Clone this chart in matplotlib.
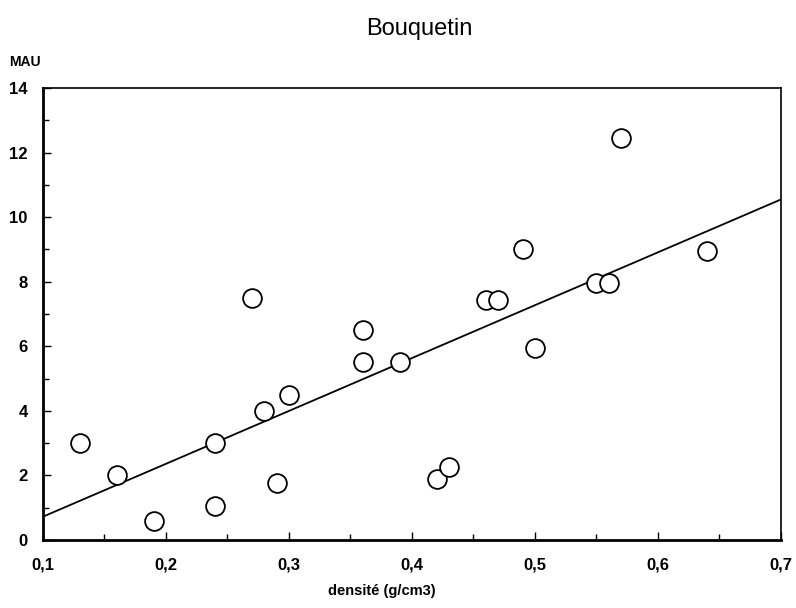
import numpy as np
import matplotlib.pyplot as plt
from matplotlib.ticker import MultipleLocator, FuncFormatter

plt.rcParams['font.family'] = ['Liberation Sans', 'DejaVu Sans']

# densite (g/cm3) and MAU values
densite = [0.13, 0.16, 0.19, 0.24, 0.24, 0.27, 0.28, 0.29, 0.30, 0.36, 0.36,
           0.39, 0.42, 0.43, 0.46, 0.47, 0.49, 0.50, 0.55, 0.56, 0.57, 0.64]
mau = [3.0, 2.0, 0.6, 3.0, 1.05, 7.5, 4.0, 1.75, 4.5, 6.5, 5.5,
       5.5, 1.9, 2.25, 7.45, 7.45, 9.0, 5.95, 7.95, 7.95, 12.45, 8.95]

# regression line end values as drawn
line_x = [0.1, 0.7]
line_y = [0.72, 10.55]

fig = plt.figure(figsize=(7.96, 6.08), dpi=100)
ax = fig.add_axes([0.054, 0.112, 0.927, 0.743])

ax.plot(line_x, line_y, color='black', lw=1.3)
ax.plot(densite, mau, 'o', mfc='white', mec='black', ms=13.5, mew=1.3, ls='none')

ax.set_xlim(0.1, 0.7)
ax.set_ylim(0, 14)
ax.xaxis.set_major_locator(MultipleLocator(0.1))
ax.xaxis.set_minor_locator(MultipleLocator(0.05))
ax.yaxis.set_major_locator(MultipleLocator(2))
ax.yaxis.set_minor_locator(MultipleLocator(1))
ax.xaxis.set_major_formatter(FuncFormatter(lambda v, p: ('%.1f' % v).replace('.', ',')))
ax.yaxis.set_major_formatter(FuncFormatter(lambda v, p: '%d' % round(v)))

ax.tick_params(which='both', direction='in', top=False, right=False)
ax.tick_params(which='major', length=6, width=1, labelsize=12)
ax.tick_params(axis='x', which='major', pad=13)
ax.tick_params(axis='y', which='major', pad=11)
ax.tick_params(which='minor', length=4, width=1)
for lab in ax.get_xticklabels() + ax.get_yticklabels():
    lab.set_fontweight('bold')

ax.spines['left'].set_linewidth(2)
ax.spines['bottom'].set_linewidth(2)
ax.spines['top'].set_linewidth(1.2)
ax.spines['right'].set_linewidth(1.2)

fig.text(0.527, 0.953, 'Bouquetin', ha='center', va='center', fontsize=17)
fig.text(0.012, 0.898, 'MAU', ha='left', va='center', fontsize=10, fontweight='bold')
fig.text(0.48, 0.028, 'densité (g/cm3)', ha='center', va='center', fontsize=10.5, fontweight='bold')

fig.savefig('out.png', dpi=100)
